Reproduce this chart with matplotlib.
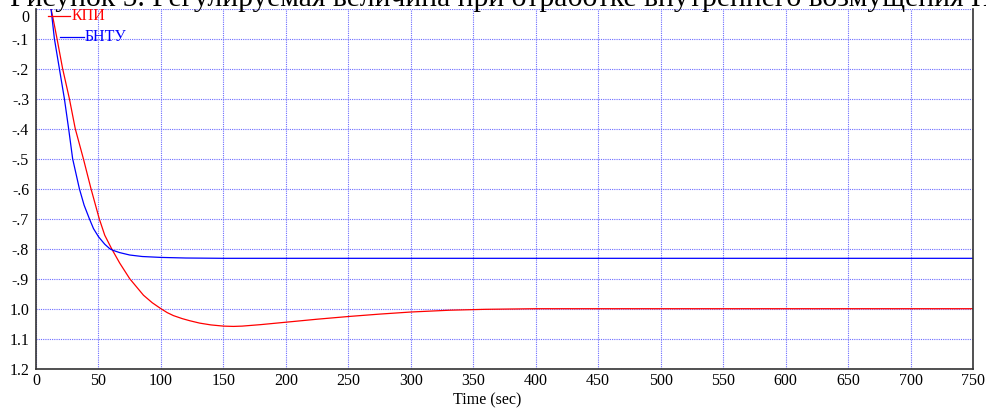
import matplotlib
matplotlib.use("Agg")
import matplotlib.pyplot as plt
import matplotlib.transforms as mtransforms

# данные (время, с; величина откладывается вниз)
t_kpi = [12, 14, 16.8, 21.3, 26.7, 31.4, 37.9, 44, 50.6, 55, 60.5, 67, 75, 86, 93, 100,
         105, 110, 117, 123, 131, 140, 150, 158, 165, 180, 200, 225, 250, 275, 300,
         331, 360, 400, 750]
y_kpi = [0, 0.04, 0.1, 0.2, 0.3, 0.4, 0.5, 0.6, 0.7, 0.755, 0.8, 0.848, 0.9, 0.955, 0.98, 1.0,
         1.013, 1.023, 1.033, 1.04, 1.048, 1.054, 1.058, 1.059, 1.058, 1.053, 1.045, 1.035,
         1.026, 1.018, 1.011, 1.005, 1.002, 1.0, 1.0]

t_bntu = [12, 14.7, 18.7, 22.7, 26.1, 29.3, 34.7, 38.5, 42.7, 46, 50, 55, 59, 62, 67,
          75, 85, 100, 120, 150, 750]
y_bntu = [0, 0.1, 0.2, 0.3, 0.4, 0.5, 0.6, 0.655, 0.7, 0.733, 0.76, 0.785, 0.8, 0.806, 0.813,
          0.821, 0.826, 0.829, 0.831, 0.832, 0.832]

y_ticks = [0, 0.1, 0.2, 0.3, 0.4, 0.5, 0.6, 0.7, 0.8, 0.9, 1.0, 1.1, 1.2]
y_labels = ['0', '-.1', '-.2', '-.3', '-.4', '-.5', '-.6', '-.7', '-.8', '-.9', '1.0', '1.1', '1.2']
x_ticks = list(range(0, 751, 50))

title = 'Рисунок 5. Регулируемая величина при отработке внутреннего возмущения Н'

plt.rcParams['font.family'] = ['Liberation Serif', 'DejaVu Serif']

fig = plt.figure(figsize=(9.87, 4.09), dpi=100)
ax = fig.add_axes([0.0365, 0.0985, 0.9493, 0.8802])

ax.plot(t_kpi, y_kpi, color='#ff0000', lw=0.9)
ax.plot(t_bntu, y_bntu, color='#0000ff', lw=0.9)

ax.set_xlim(0, 750)
ax.set_ylim(1.2, 0)
ax.set_xticks(x_ticks)
ax.set_yticks(y_ticks)
ax.set_yticklabels(y_labels)
ax.tick_params(length=0, labelsize=11.5)
ax.tick_params(axis='y', pad=5)
ax.tick_params(axis='x', pad=3)
ax.grid(True, color='#6b6bff', linestyle=(0, (1, 1)), lw=0.8)

for s in ['left', 'bottom', 'right']:
    ax.spines[s].set_color('#333333')
    ax.spines[s].set_linewidth(1.2)
ax.spines['top'].set_visible(False)

ax.set_xlabel('Time (sec)', fontsize=11.5, labelpad=1)
ax.xaxis.set_label_coords(0.482, -0.065)

# подпись "0" сдвинута вниз, как на оригинале
lbl0 = ax.get_yticklabels()[0]
lbl0.set_transform(lbl0.get_transform() + mtransforms.ScaledTranslation(0, -7 / 100, fig.dpi_scale_trans))

# подписи кривых
ax.plot([0.0128, 0.0363], [0.980, 0.980], color='#ff0000', lw=0.9, transform=ax.transAxes, clip_on=False)
ax.text(0.0375, 0.980, 'КПИ', color='#ff0000', fontsize=11.5, va='center', transform=ax.transAxes)
ax.plot([0.0256, 0.0512], [0.921, 0.921], color='#0000ff', lw=0.9, transform=ax.transAxes, clip_on=False)
ax.text(0.0520, 0.921, 'БНТУ', color='#0000ff', fontsize=11.5, va='center', transform=ax.transAxes)

fig.text(0.01, 1 - 6 / 409, title, fontsize=21.3, va='baseline', ha='left')

fig.savefig('out.png', dpi=100)
